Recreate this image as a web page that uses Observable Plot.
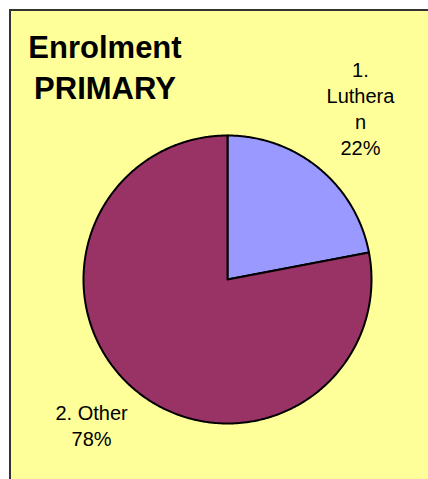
<!DOCTYPE html>
<html><head><meta charset="utf-8">
<script src="https://cdn.jsdelivr.net/npm/d3@7"></script>
<script src="https://cdn.jsdelivr.net/npm/@observablehq/plot@0.6"></script>
<style>
html,body{margin:0;padding:0;background:#fff;overflow:hidden;width:428px;height:479px;position:relative;}
#frame{position:absolute;left:9px;top:9px;width:600px;height:600px;background:#FFFF99;border-left:2px solid #333;border-top:2px solid #333;}
#title{position:absolute;left:0;top:27px;width:210px;text-align:center;font:bold 31px/41px "Liberation Sans",Arial,sans-serif;color:#000;z-index:2;}
#chart{position:absolute;left:0;top:0;z-index:1;}
</style></head><body>
<div id="frame"></div>
<div id="title">Enrolment<br>PRIMARY</div>
<div id="chart"></div>
<script>
const categories = ["1. Lutheran", "2. Other"];
const labelText = ["1.\nLuthera\nn\n22%", "2. Other\n78%"];
const percents = [22, 78];
const colors = ["#9999FF", "#993366"];

const total = d3.sum(percents);
let acc = 0;
const verts = [];
const slices = [];
categories.forEach((c, i) => {
  const a0 = acc / total * 2 * Math.PI;
  acc += percents[i];
  const a1 = acc / total * 2 * Math.PI;
  verts.push({cat: c, x: 0, y: 0});
  const n = Math.max(2, Math.ceil((a1 - a0) / (Math.PI / 360)));
  for (let k = 0; k <= n; k++) {
    const a = a0 + (a1 - a0) * k / n;
    verts.push({cat: c, x: Math.sin(a), y: Math.cos(a)});
  }
  verts.push({cat: c, x: 0, y: 0});
  const mid = (a0 + a1) / 2;
  slices.push({cat: c, label: labelText[i], mid, lx: 1.1 * Math.sin(mid), ly: 1.1 * Math.cos(mid)});
});

const textOpts = {x: "lx", y: "ly", text: "label", textAnchor: "middle", fontSize: 20,
  fontFamily: "Liberation Sans, Arial, sans-serif", lineHeight: 26 / 20, fill: "black"};

const upperRight = slices.filter(d => d.ly > 0 && d.lx > 0);
const upperLeft = slices.filter(d => d.ly > 0 && d.lx <= 0);
const lowerRight = slices.filter(d => d.ly <= 0 && d.lx > 0);
const lowerLeft = slices.filter(d => d.ly <= 0 && d.lx <= 0);

const chart = Plot.plot({
  width: 428,
  height: 479,
  margin: 0,
  style: {background: "transparent", overflow: "visible"},
  x: {domain: [-1, 1], range: [83, 371], axis: null},
  y: {domain: [-1, 1], range: [423, 135], axis: null},
  color: {domain: categories, range: colors},
  marks: [
    Plot.line(verts, {x: "x", y: "y", z: "cat", fill: "cat", stroke: "black", strokeWidth: 2, strokeLinejoin: "round", curve: "linear"}),
    Plot.text(upperRight, {...textOpts, lineAnchor: "bottom", dx: 32, dy: -2}),
    Plot.text(upperLeft, {...textOpts, lineAnchor: "bottom", dx: -32, dy: -2}),
    Plot.text(lowerRight, {...textOpts, lineAnchor: "top", dx: 36}),
    Plot.text(lowerLeft, {...textOpts, lineAnchor: "top", dx: -35})
  ]
});
document.getElementById("chart").appendChild(chart);
</script>
</body></html>
